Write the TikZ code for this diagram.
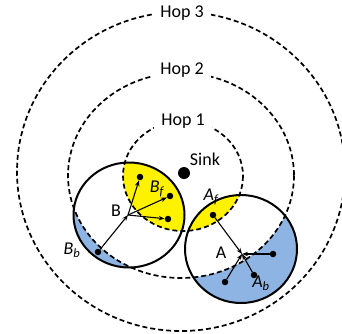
\documentclass[tikz,border=0pt]{standalone}
\usepackage{fontspec}
\setmainfont{Carlito}
\usetikzlibrary{arrows.meta, positioning}
\definecolor{backblue}{RGB}{141,180,226}

\begin{document}
\begin{tikzpicture}[x=1pt, y=-1pt, font=\fontsize{18}{20}\selectfont,
    hop/.style={dash pattern=on 5pt off 3pt, line width=1.7pt},
    rangecircle/.style={line width=2pt},
    blob/.style={circle, fill=black, inner sep=0pt, minimum size=6.5pt},
    arr/.style={-{Stealth[length=6pt, width=4.5pt]}, line width=1.1pt},
    hoplabel/.style={fill=white, inner xsep=7pt, inner ysep=3pt}
]
  \useasboundingbox (0,0) rectangle (342,333);

  % forward / backward areas of B
  \begin{scope}
    \clip (129,215) ellipse [x radius=55.5, y radius=52.5];
    \fill[yellow] (183,176) ellipse [x radius=60, y radius=55];
    \fill[backblue, even odd rule] (0,0) rectangle (342,333)
      (181,175.5) ellipse [x radius=113, y radius=102.5];
  \end{scope}
  % forward / backward areas of A
  \begin{scope}
    \clip (241,249) ellipse [x radius=56, y radius=54];
    \fill[yellow] (183,176) ellipse [x radius=60, y radius=55];
    \fill[backblue, even odd rule] (0,0) rectangle (342,333)
      (181,175.5) ellipse [x radius=113, y radius=102.5];
  \end{scope}

  % hop rings
  \draw[hop] (183,176) ellipse [x radius=60, y radius=55];
  \draw[hop] (181,175.5) ellipse [x radius=113, y radius=102.5];
  \draw[hop] (181,171.5) ellipse [x radius=164, y radius=159.5];
  \node[hoplabel] (hop1) at (183,121) {Hop 1};
  \node[hoplabel] (hop2) at (182,70) {Hop 2};
  \node[hoplabel] (hop3) at (182,13.5) {Hop 3};

  % ranges
  \draw[rangecircle] (129,215) ellipse [x radius=55.5, y radius=52.5];
  \draw[rangecircle] (241,249) ellipse [x radius=56, y radius=54];

  \node[circle, fill=black, inner sep=0pt, minimum size=12pt] (sink) at (184,173) {};
  \node (sinklabel) at (205,159) {Sink};

  % node B
  \coordinate (ptB) at (128,215);
  \node[blob] (bf1) at (140,177) {};
  \node[blob] (bf2) at (170,196) {};
  \node[blob] (bf3) at (168,219) {};
  \node[blob] (bb) at (98,252) {};
  \draw[arr] (ptB) -- (bf1);
  \draw[arr] (ptB) -- (bf2);
  \draw[arr] (ptB) -- (bf3);
  \draw[arr] (bb) -- (ptB);
  \node (labB) at (116,211) {B};
  \node (labBf) at (157,189) {\itshape B\textsubscript{f}};
  \node (labBb) at (72,250) {\itshape B\textsubscript{b}};

  % node A
  \coordinate (ptA) at (242,254);
  \node[blob] (af) at (213,215) {};
  \node[blob] (ab1) at (273,254) {};
  \node[blob] (ab2) at (254,275) {};
  \node[blob] (ab3) at (225,282) {};
  \draw[arr] (af) -- (ptA);
  \draw[arr] (ab1) -- (ptA);
  \draw[arr] (ab2) -- (ptA);
  \draw[arr] (ab3) -- (ptA);
  \node (labA) at (221,253) {A};
  \node (labAf) at (211,197) {\itshape A\textsubscript{f}};
  \node (labAb) at (261,283) {\itshape A\textsubscript{b}};
\end{tikzpicture}
\end{document}
